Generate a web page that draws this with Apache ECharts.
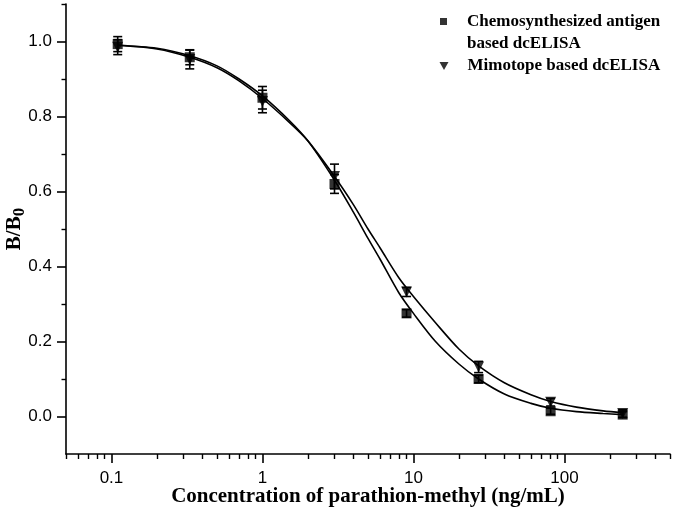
<!DOCTYPE html>
<html><head><meta charset="utf-8">
<script src="https://cdn.jsdelivr.net/npm/echarts@6/dist/echarts.min.js"></script>
<style>html,body{margin:0;padding:0;background:#fff}#c{width:675px;height:516px}</style>
</head><body><div id="c"></div>
<script>
// ---- data ----
const concentrations = [0.11, 0.33, 1, 3, 9, 27, 81, 243];
const chemoValues = [0.993, 0.958, 0.85, 0.62, 0.275, 0.10, 0.014, 0.005];
const chemoErrors = [0.02, 0.02, 0.03, 0.025, 0.01, 0.01, 0.008, 0.008];
const mimoValues = [0.985, 0.952, 0.84, 0.64, 0.332, 0.132, 0.038, 0.008];
const mimoErrors = [0.02, 0.025, 0.03, 0.033, 0.012, 0.015, 0.01, 0.01];
const fitX = [0.11, 0.2, 0.33, 0.5, 0.7, 1, 1.5, 2, 3, 4, 5, 6, 8, 10, 14, 20, 27, 40, 60, 81, 120, 180, 243];
const chemoFit = [0.99, 0.982, 0.962, 0.935, 0.9, 0.855, 0.79, 0.735, 0.63, 0.545, 0.475, 0.42, 0.33, 0.275, 0.2, 0.14, 0.1, 0.06, 0.035, 0.022, 0.013, 0.008, 0.005];
const mimoFit = [0.99, 0.98, 0.958, 0.93, 0.895, 0.848, 0.785, 0.735, 0.64, 0.565, 0.5, 0.45, 0.37, 0.32, 0.25, 0.18, 0.135, 0.09, 0.058, 0.04, 0.025, 0.015, 0.01];
const xMajorTicks = [0.1, 1, 10, 100];
const xMinorTicks = [0.05, 0.06, 0.07, 0.08, 0.09, 0.2, 0.3, 0.4, 0.5, 0.6, 0.7, 0.8, 0.9, 2, 3, 4, 5, 6, 7, 8, 9, 20, 30, 40, 50, 60, 70, 80, 90, 200, 300, 400, 500];
const yMajorTicks = [0, 0.2, 0.4, 0.6, 0.8, 1.0];
const yMinorTicks = [0.1, 0.3, 0.5, 0.7, 0.9, 1.1];
const chemoName = 'Chemosynthesized antigen\nbased dcELISA';
const mimoName = 'Mimotope based dcELISA';
const xTitle = 'Concentration of parathion-methyl (ng/mL)';

const SERIF = '"Liberation Serif", "Times New Roman", serif';
const SANS = '"Liberation Sans", Arial, sans-serif';

const chart = echarts.init(document.getElementById('c'), null, {renderer: 'canvas'});

function errorBarItem(params, api) {
  const x = api.value(0), y = api.value(1), e = api.value(2);
  const top = api.coord([x, y + e]);
  const bot = api.coord([x, y - e]);
  const hw = 4.5;
  const st = {stroke: '#000', lineWidth: 1.6};
  return {type: 'group', children: [
    {type: 'line', shape: {x1: top[0], y1: top[1], x2: bot[0], y2: bot[1]}, style: st},
    {type: 'line', shape: {x1: top[0] - hw, y1: top[1], x2: top[0] + hw, y2: top[1]}, style: st},
    {type: 'line', shape: {x1: bot[0] - hw, y1: bot[1], x2: bot[0] + hw, y2: bot[1]}, style: st}
  ]};
}

const legendText = {fontFamily: SERIF, fontWeight: 'bold', fontSize: 17, color: '#000', lineHeight: 22};

chart.setOption({
  animation: false,
  backgroundColor: '#fff',
  grid: {left: 66, right: 5, top: 4, bottom: 62, containLabel: false, outerBoundsMode: 'none'},
  legend: [
    {data: [{name: chemoName, icon: 'path://M0,7L7,7L7,14L0,14Z M0,0L0,0 M0,44L0,44'}],
     left: 440, top: 11, orient: 'vertical', padding: 0,
     itemWidth: 7, itemHeight: 44, itemStyle: {color: '#000'},
     textStyle: Object.assign({}, legendText, {padding: [0, 0, 0, 15]})},
    {data: [{name: mimoName, icon: 'path://M0,0L10,0L5,9Z'}], left: 439.5, top: 55, orient: 'vertical', padding: 0,
     itemWidth: 9, itemHeight: 9, itemStyle: {color: '#000'},
     textStyle: Object.assign({}, legendText, {padding: [0, 0, 0, 14]})}
  ],
  xAxis: [
    {type: 'log', logBase: 10, min: 0.05, max: 500,
     name: xTitle, nameLocation: 'middle', nameGap: 32, nameMoveOverlap: false,
     nameTextStyle: {fontFamily: SERIF, fontWeight: 'bold', fontSize: 21, color: '#000'},
     axisLine: {onZero: false, lineStyle: {color: '#000', width: 1.6}},
     axisTick: {inside: false, length: 9, lineStyle: {color: '#000', width: 1.6}, customValues: xMajorTicks},
     axisLabel: {customValues: xMajorTicks, margin: 16, fontFamily: SANS, fontSize: 17, color: '#000',
       formatter: v => String(+(+v).toPrecision(3))},
     splitLine: {show: false}, minorTick: {show: false}},
    {type: 'log', logBase: 10, min: 0.05, max: 500, position: 'bottom', offset: 0,
     axisLine: {show: false, onZero: false},
     axisTick: {inside: false, length: 5, lineStyle: {color: '#000', width: 1.4}, customValues: xMinorTicks},
     axisLabel: {show: false}, splitLine: {show: false}}
  ],
  yAxis: [
    {type: 'value', min: -0.1, max: 1.1,
     name: '{a|B/B}{b|0}', nameLocation: 'middle', nameGap: 38, nameRotate: 90, nameMoveOverlap: false,
     nameTextStyle: {color: '#000', rich: {
       a: {fontFamily: SERIF, fontWeight: 'bold', fontSize: 21, color: '#000'},
       b: {fontFamily: SERIF, fontWeight: 'bold', fontSize: 17, color: '#000', verticalAlign: 'bottom', padding: [9, 0, 0, 0]}
     }},
     axisLine: {onZero: false, lineStyle: {color: '#000', width: 1.6}},
     axisTick: {inside: false, length: 9, lineStyle: {color: '#000', width: 1.6}, customValues: yMajorTicks},
     axisLabel: {customValues: yMajorTicks, margin: 14, fontFamily: SANS, fontSize: 17, color: '#000',
       formatter: v => (+v).toFixed(1)},
     splitLine: {show: false}},
    {type: 'value', min: -0.1, max: 1.1, position: 'left', offset: 0,
     axisLine: {show: false, onZero: false},
     axisTick: {inside: false, length: 4.5, lineStyle: {color: '#000', width: 1.4}, customValues: yMinorTicks},
     axisLabel: {show: false}, splitLine: {show: false}}
  ],
  series: [
    {name: 'chemo fit', type: 'line', smooth: 0.3, showSymbol: false, symbol: 'none',
     xAxisIndex: 0, yAxisIndex: 0, z: 2,
     lineStyle: {color: '#000', width: 1.6},
     data: fitX.map((x, i) => [x, chemoFit[i]])},
    {name: 'mimo fit', type: 'line', smooth: 0.3, showSymbol: false, symbol: 'none',
     xAxisIndex: 0, yAxisIndex: 0, z: 2,
     lineStyle: {color: '#000', width: 1.6},
     data: fitX.map((x, i) => [x, mimoFit[i]])},
    {name: 'chemo err', type: 'custom', xAxisIndex: 0, yAxisIndex: 0, z: 3,
     renderItem: errorBarItem,
     data: concentrations.map((x, i) => [x, chemoValues[i], chemoErrors[i]])},
    {name: 'mimo err', type: 'custom', xAxisIndex: 0, yAxisIndex: 0, z: 3,
     renderItem: errorBarItem,
     data: concentrations.map((x, i) => [x, mimoValues[i], mimoErrors[i]])},
    {name: chemoName, type: 'scatter', xAxisIndex: 0, yAxisIndex: 0, z: 4,
     symbol: 'rect', symbolSize: 10, itemStyle: {color: '#000'},
     data: concentrations.map((x, i) => [x, chemoValues[i]])},
    {name: mimoName, type: 'scatter', xAxisIndex: 0, yAxisIndex: 0, z: 4,
     symbol: 'triangle', symbolRotate: 180, symbolSize: 11, itemStyle: {color: '#000'},
     data: concentrations.map((x, i) => [x, mimoValues[i]])}
  ]
});
</script>
</body></html>
